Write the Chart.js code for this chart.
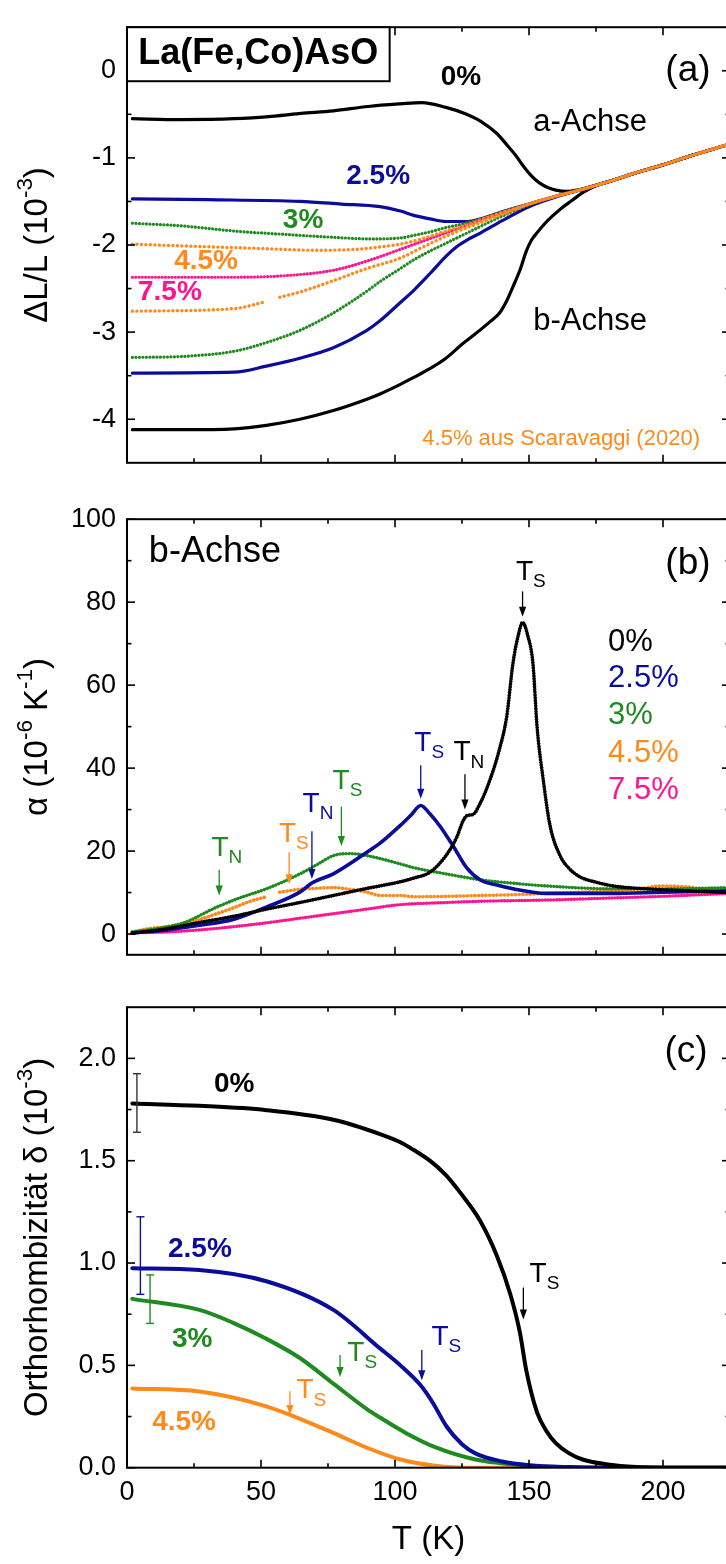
<!DOCTYPE html>
<html><head><meta charset="utf-8">
<script src="https://cdn.jsdelivr.net/npm/chart.js@4.4.1/dist/chart.umd.min.js"></script>
<style>
html,body{margin:0;padding:0;background:#fff;overflow:hidden;width:726px;height:1564px;}
#wrap{position:relative;width:726px;height:1564px;overflow:hidden;background:#fff;}
.pane{position:absolute;left:0;width:740px;}
canvas{display:block;}
</style></head><body>
<div id="wrap">
<div class="pane" style="top:0;height:490px"><canvas id="ca" width="740" height="490"></canvas></div>
<div class="pane" style="top:492px;height:490px"><canvas id="cb" width="740" height="490"></canvas></div>
<div class="pane" style="top:980px;height:584px"><canvas id="cc" width="740" height="584"></canvas></div>
</div>
<script>
// ---------- tick values ----------
const X_MAJOR = [0, 50, 100, 150, 200];
const X_MINOR = [25, 75, 125, 175];
const A_Y_MAJOR = [-4, -3, -2, -1, 0];
const A_Y_MINOR = [-3.5, -2.5, -1.5, -0.5];
const B_Y_MAJOR = [0, 20, 40, 60, 80, 100];
const B_Y_MINOR = [10, 30, 50, 70, 90];
const C_Y_MAJOR = [0, 0.5, 1.0, 1.5, 2.0];
const C_Y_MINOR = [0.25, 0.75, 1.25, 1.75];

// ---------- panel (a): ΔL/L (1e-3) ----------
const A_T_0a = [2, 20, 40, 55, 65, 77, 90, 102, 110, 119, 126, 132, 138, 142, 145, 148, 151, 154, 157, 160, 164, 168, 172, 180, 190, 200, 210, 225];
const A_V_0a = [-0.55, -0.56, -0.55, -0.52, -0.49, -0.46, -0.41, -0.38, -0.365, -0.42, -0.49, -0.58, -0.72, -0.86, -0.97, -1.10, -1.21, -1.29, -1.34, -1.37, -1.385, -1.37, -1.34, -1.27, -1.17, -1.08, -0.98, -0.84];
const A_T_0b = [2, 20, 40, 52, 64.5, 77, 89.5, 94.4, 102, 107, 113, 119, 125, 130, 135.5, 139, 141.7, 144, 146.6, 149, 151, 153, 156, 159, 162, 166, 170, 175, 180, 190, 200, 210, 225];
const A_V_0b = [-4.12, -4.12, -4.11, -4.07, -4.0, -3.90, -3.77, -3.71, -3.60, -3.52, -3.42, -3.30, -3.14, -3.02, -2.88, -2.78, -2.64, -2.48, -2.29, -2.07, -1.94, -1.86, -1.75, -1.66, -1.58, -1.49, -1.40, -1.32, -1.27, -1.17, -1.08, -0.98, -0.84];
const A_T_25a = [2, 30, 64.5, 80, 94.4, 102, 107, 113, 119, 127, 132, 140, 150, 160, 170, 180, 190, 200, 210, 225];
const A_V_25a = [-1.47, -1.48, -1.50, -1.53, -1.56, -1.61, -1.66, -1.70, -1.73, -1.73, -1.70, -1.62, -1.53, -1.44, -1.36, -1.27, -1.17, -1.08, -0.98, -0.84];
const A_T_25b = [2, 40, 52, 64.5, 77, 89.5, 94.4, 102, 107, 113, 119, 123, 127, 132, 140, 150, 160, 170, 180, 190, 200, 210, 225];
const A_V_25b = [-3.47, -3.46, -3.39, -3.30, -3.18, -2.98, -2.87, -2.66, -2.52, -2.33, -2.13, -2.02, -1.94, -1.86, -1.72, -1.56, -1.45, -1.36, -1.27, -1.17, -1.08, -0.98, -0.84];
const A_T_3a = [2, 20, 40, 60, 76, 91, 102, 107, 113, 119, 125, 132, 140, 150, 160, 170, 180, 190, 200, 210, 225];
const A_V_3a = [-1.75, -1.78, -1.84, -1.88, -1.91, -1.93, -1.92, -1.89, -1.85, -1.80, -1.76, -1.70, -1.62, -1.53, -1.44, -1.36, -1.27, -1.17, -1.08, -0.98, -0.84];
const A_T_3b = [2, 20, 40, 52, 64.5, 77, 89.5, 94.4, 102, 107, 113, 119, 127, 135, 145, 150, 160, 170, 180, 190, 200, 210, 225];
const A_V_3b = [-3.29, -3.28, -3.22, -3.12, -2.98, -2.78, -2.53, -2.42, -2.27, -2.17, -2.07, -1.98, -1.86, -1.74, -1.60, -1.54, -1.44, -1.36, -1.27, -1.17, -1.08, -0.98, -0.84];
const A_T_45a = [2, 30, 50, 70, 85, 95, 102, 110, 119, 127, 135, 145, 150, 160, 170, 180, 190, 200, 210, 225];
const A_V_45a = [-1.99, -2.02, -2.04, -2.06, -2.05, -2.02, -1.99, -1.93, -1.84, -1.77, -1.68, -1.58, -1.53, -1.44, -1.36, -1.27, -1.17, -1.08, -0.98, -0.84];
const A_T_45b = [2, 40, 52, 55, 57, 64.5, 77, 89.5, 102, 110, 119, 127, 135, 145, 150, 160, 170, 180, 190, 200, 210, 225];
const A_V_45b = [-2.76, -2.73, -2.65, null, -2.60, -2.54, -2.41, -2.27, -2.15, -2.03, -1.90, -1.80, -1.71, -1.59, -1.53, -1.44, -1.36, -1.27, -1.17, -1.08, -0.98, -0.84];
const A_T_75 = [2, 20, 40, 60, 77, 90, 102, 110, 120, 132, 145, 150, 160, 170, 180, 190, 200, 210, 225];
const A_V_75 = [-2.37, -2.37, -2.37, -2.35, -2.29, -2.18, -2.05, -1.96, -1.85, -1.71, -1.58, -1.53, -1.44, -1.36, -1.27, -1.17, -1.08, -0.98, -0.84];

// ---------- panel (b): α (1e-6 / K), b-axis ----------
const B_T_0 = [2, 15, 27, 40, 52, 64.5, 77, 89.5, 94.4, 102, 107, 113, 119, 123, 125.5, 127, 129, 131.7, 135.5, 139, 141.7, 144, 146, 147.6, 149.5, 151.5, 153, 155.3, 157.8, 161.6, 165, 169, 175, 181.4, 194, 210, 225];
const B_V_0 = [0.2, 1.3, 2.8, 4.3, 6.0, 7.6, 9.3, 11.0, 11.6, 12.6, 13.5, 14.9, 18.9, 23.3, 27.4, 28.6, 28.8, 31.4, 37.3, 44.6, 52.5, 65.2, 72, 75.1, 72, 65, 50, 37.3, 26.3, 18.9, 15.8, 13.8, 12.5, 11.6, 10.9, 10.4, 10.0];
const B_T_25 = [2, 15, 27, 39.6, 52, 64.5, 69, 77, 89.5, 94.4, 102, 106, 109.6, 113, 116.8, 121.8, 126.7, 131.7, 138, 144, 156.6, 181, 200, 225];
const B_V_25 = [0.3, 1.0, 2.1, 3.5, 6.5, 10.1, 12.3, 14.5, 19.7, 21.9, 26.2, 28.7, 31.0, 29.0, 26.0, 21.1, 16.0, 13.1, 11.8, 10.9, 9.8, 9.8, 10.1, 10.4];
const B_T_3 = [2, 10, 21, 33.5, 42, 52, 64.5, 70.8, 77, 83, 89.5, 94.4, 102, 107, 119, 131.7, 145, 156.6, 181, 200, 225];
const B_V_3 = [0.5, 1.2, 2.7, 6.5, 8.7, 10.9, 14.5, 16.7, 18.9, 19.4, 18.9, 18.2, 16.9, 16.0, 14.5, 13.1, 12.2, 11.6, 10.9, 10.9, 11.2];
const B_T_45 = [2, 8, 15, 21, 27, 33.5, 40, 46, 52, 55, 57, 64.5, 70, 77, 83, 89.5, 94.4, 102, 107, 120, 131.7, 145, 156.6, 170, 181, 190, 200, 210, 218.7, 225];
const B_V_45 = [0.5, 1.3, 1.8, 2.4, 3.5, 4.9, 6.4, 7.9, 9.0, null, 10.1, 10.8, 11.0, 11.2, 10.8, 10.1, 9.3, 9.3, 9.0, 9.1, 9.3, 9.5, 9.8, 10.1, 10.4, 10.8, 11.6, 11.3, 10.4, 10.6];
const B_T_75 = [2, 15, 27, 40, 52, 64.5, 77, 89.5, 102, 115, 131.7, 156.6, 181, 200, 225];
const B_V_75 = [0.3, 0.5, 1.0, 1.8, 2.7, 3.8, 4.9, 6.0, 7.1, 7.5, 7.9, 8.2, 8.7, 9.1, 9.8];

// ---------- panel (c): orthorhombicity δ (1e-3) ----------
const C_T_0 = [2, 27, 52, 77, 94.4, 102, 107, 113, 119, 124, 131.7, 138, 143, 146.6, 149, 153, 156.6, 160, 165, 170, 180, 190, 200, 225];
const C_V_0 = [1.78, 1.768, 1.747, 1.70, 1.63, 1.59, 1.552, 1.50, 1.43, 1.35, 1.208, 1.036, 0.849, 0.661, 0.474, 0.27, 0.177, 0.12, 0.07, 0.04, 0.015, 0.004, 0, 0];
const C_T_25 = [2, 27, 52, 77, 94.4, 102, 109.4, 114, 119.3, 125, 130, 140, 150, 165, 180, 225];
const C_V_25 = [0.975, 0.966, 0.911, 0.771, 0.583, 0.50, 0.405, 0.32, 0.20, 0.115, 0.07, 0.03, 0.012, 0.003, 0, 0];
const C_T_3 = [2, 27, 39.6, 52, 64.5, 77, 89.5, 94.4, 104, 115, 130, 150, 170, 225];
const C_V_3 = [0.825, 0.771, 0.708, 0.63, 0.536, 0.411, 0.286, 0.245, 0.17, 0.10, 0.04, 0.01, 0, 0];
const C_T_45 = [2, 27, 52, 64.5, 77, 90, 102, 115, 130, 225];
const C_V_45 = [0.387, 0.372, 0.30, 0.239, 0.17, 0.095, 0.04, 0.01, 0, 0];
const C_ERR_T = [3.7, 5, 8.6];
const C_ERR_LO = [1.639, 0.847, 0.705];
const C_ERR_HI = [1.925, 1.226, 0.942];

// ---------- styling ----------
const FONT = "Arial, 'Liberation Sans', Helvetica, sans-serif";
const BLACK = '#000000', BLUE = '#0c0c9c', GREEN = '#1f8a1f', ORANGE = '#ff8a1c', PINK = '#ff1490';
Chart.defaults.font.family = FONT;
Chart.defaults.color = '#000';

const pts = (T, V) => T.map((t, i) => ({x: t, y: V[i]}));
function solid(T, V, c, w) {
  return {data: pts(T, V), borderColor: c, backgroundColor: c, borderWidth: w || 3.2, pointRadius: 0,
    cubicInterpolationMode: 'monotone', spanGaps: false, borderCapStyle: 'round'};
}
function dotted(T, V, c, w, dash) {
  return {data: pts(T, V), borderColor: c, backgroundColor: c, borderWidth: w || 3.2, pointRadius: 0,
    borderDash: dash || [0.1, 4.2], borderCapStyle: 'round', cubicInterpolationMode: 'monotone', spanGaps: false};
}

function rich(ctx, parts, x, y, size, color, weight, align) {
  let w = 0;
  const segs = parts.map(p => {
    const s = (p.sub || p.sup) ? size * 0.68 : size;
    ctx.font = `${weight || 'normal'} ${s}px ${FONT}`;
    const m = ctx.measureText(p.t).width; w += m;
    return {p, s, m};
  });
  let cx = align === 'left' ? x : x - w / 2;
  ctx.fillStyle = color; ctx.textBaseline = 'middle'; ctx.textAlign = 'left';
  for (const sg of segs) {
    ctx.font = `${weight || 'normal'} ${sg.s}px ${FONT}`;
    const dy = sg.p.sub ? size * 0.34 : sg.p.sup ? -size * 0.36 : 0;
    ctx.fillText(sg.p.t, cx, y + dy);
    cx += sg.m;
  }
}

const ink = {
  id: 'ink',
  afterDatasetsDraw(chart) {
    const o = chart.options.plugins.ink; if (!o) return;
    const ctx = chart.ctx, xs = chart.scales.x, ys = chart.scales.y, ca = chart.chartArea;
    ctx.save();
    ctx.strokeStyle = '#000'; ctx.lineWidth = 2;
    ctx.strokeRect(ca.left, ca.top, ca.right - ca.left, ca.bottom - ca.top);
    ctx.lineWidth = 1.6;
    const seg = (x1, y1, x2, y2) => {ctx.beginPath(); ctx.moveTo(x1, y1); ctx.lineTo(x2, y2); ctx.stroke();};
    const xt = (arr, L) => arr.forEach(v => {const p = xs.getPixelForValue(v); seg(p, ca.bottom, p, ca.bottom - L); seg(p, ca.top, p, ca.top + L);});
    const yt = (arr, L) => arr.forEach(v => {const p = ys.getPixelForValue(v); seg(ca.left, p, ca.left + L, p); seg(ca.right, p, ca.right - L, p);});
    xt(X_MAJOR, 8); xt(X_MINOR, 4.5); yt(o.yMajor, 8); yt(o.yMinor, 4.5);
    ctx.save();
    ctx.translate(38, (ca.top + ca.bottom) / 2);
    ctx.rotate(-Math.PI / 2);
    rich(ctx, o.ytitle, 0, 0, 33, '#000', 'normal', 'center');
    ctx.restore();
    for (const n of o.notes) {
      const c = n.c || '#000';
      if (n.k === 'box') {
        const x1 = xs.getPixelForValue(n.x1), x2 = xs.getPixelForValue(n.x2);
        const y1 = ys.getPixelForValue(n.y1), y2 = ys.getPixelForValue(n.y2);
        ctx.fillStyle = '#fff'; ctx.fillRect(x1, y1, x2 - x1, y2 - y1);
        ctx.strokeStyle = '#000'; ctx.lineWidth = 2; ctx.strokeRect(x1, y1, x2 - x1, y2 - y1);
      } else if (n.k === 'text') {
        rich(ctx, [{t: n.t}], xs.getPixelForValue(n.x), ys.getPixelForValue(n.y), n.s, c, n.w, n.align);
      } else if (n.k === 'tl') {
        const ax = xs.getPixelForValue(n.x), a1 = ys.getPixelForValue(n.y1), a2 = ys.getPixelForValue(n.y2);
        ctx.strokeStyle = c; ctx.fillStyle = c; ctx.lineWidth = 1.3;
        seg(ax, a1, ax, a2 - 6);
        ctx.beginPath(); ctx.moveTo(ax, a2); ctx.lineTo(ax - 3.6, a2 - 10); ctx.lineTo(ax + 3.6, a2 - 10); ctx.closePath(); ctx.fill();
        const tx = xs.getPixelForValue(n.tx), ty = ys.getPixelForValue(n.ty);
        ctx.font = `normal 28px ${FONT}`;
        const wT = ctx.measureText('T').width;
        rich(ctx, [{t: 'T'}, {t: n.sub, sub: true}], tx - wT / 2, ty, 28, c, 'normal', 'left');
      } else if (n.k === 'err') {
        ctx.lineWidth = 1.4;
        n.T.forEach((t, i) => {
          const px = xs.getPixelForValue(t), lo = ys.getPixelForValue(n.lo[i]), hi = ys.getPixelForValue(n.hi[i]);
          ctx.strokeStyle = n.cols[i];
          seg(px, lo, px, hi); seg(px - 4, lo, px + 4, lo); seg(px - 4, hi, px + 4, hi);
        });
      }
    }
    ctx.restore();
  }
};

function makeChart(id, datasets, yMin, yMax, yMajor, yMinor, fmt, pad, ytitle, notes, showX) {
  return new Chart(document.getElementById(id), {
    type: 'line',
    data: {datasets},
    plugins: [ink],
    options: {
      responsive: false, devicePixelRatio: 1, animation: false,
      layout: {padding: pad},
      plugins: {legend: {display: false}, tooltip: {enabled: false}, title: {display: false},
        ink: {yMajor, yMinor, ytitle, notes}},
      scales: {
        x: {type: 'linear', min: 0, max: 225, display: showX,
          grid: {display: false, drawTicks: false}, border: {display: false},
          afterBuildTicks: s => { s.ticks = X_MAJOR.map(v => ({value: v})); },
          afterFit: s => { if (showX) s.height = 96.3; },
          ticks: {font: {size: 27}, color: '#000', padding: 9, maxRotation: 0, callback: v => String(v)},
          title: {display: showX, text: 'T (K)', font: {size: 33}, color: '#000', padding: {top: 0, bottom: 4}}},
        y: {type: 'linear', min: yMin, max: yMax,
          grid: {display: false, drawTicks: false}, border: {display: false},
          afterBuildTicks: s => { s.ticks = yMajor.map(v => ({value: v})); },
          afterFit: s => { s.width = 127; },
          ticks: {font: {size: 27}, color: '#000', padding: 11, callback: fmt}}
      }
    }
  });
}

// panel (a)
makeChart('ca', [
  dotted(A_T_45a, A_V_45a, ORANGE, 3.4, [0.1, 4.4]),
  dotted(A_T_45b, A_V_45b, ORANGE, 3.4, [0.1, 4.4]),
  dotted(A_T_75, A_V_75, PINK, 3.2, [0.1, 3.2]),
  dotted(A_T_3a, A_V_3a, GREEN, 3.2, [0.1, 3.4]),
  dotted(A_T_3b, A_V_3b, GREEN, 3.2, [0.1, 3.4]),
  solid(A_T_25a, A_V_25a, BLUE, 3.2),
  solid(A_T_25b, A_V_25b, BLUE, 3.2),
  solid(A_T_0a, A_V_0a, BLACK, 3.2),
  solid(A_T_0b, A_V_0b, BLACK, 3.2)
], -4.5, 0.5, A_Y_MAJOR, A_Y_MINOR, v => String(v), {top: 6.75, bottom: 5.75, left: 0, right: 10},
  [{t: 'ΔL/L (10'}, {t: '-3', sup: true}, {t: ')'}],
  [
    {k: 'box', x1: 0, x2: 98, y1: 0.5, y2: -0.12},
    {k: 'text', x: 49, y: 0.19, t: 'La(Fe,Co)AsO', s: 36, w: 'bold'},
    {k: 'text', x: 209.3, y: 0.0, t: '(a)', s: 37},
    {k: 'text', x: 124.6, y: -0.08, t: '0%', s: 28, w: 'bold'},
    {k: 'text', x: 172.8, y: -0.59, t: 'a-Achse', s: 31},
    {k: 'text', x: 172.8, y: -2.88, t: 'b-Achse', s: 31},
    {k: 'text', x: 93.7, y: -1.21, t: '2.5%', s: 28, w: 'bold', c: BLUE},
    {k: 'text', x: 65.7, y: -1.72, t: '3%', s: 28, w: 'bold', c: GREEN},
    {k: 'text', x: 29.5, y: -2.19, t: '4.5%', s: 28, w: 'bold', c: ORANGE},
    {k: 'text', x: 16, y: -2.54, t: '7.5%', s: 28, w: 'bold', c: PINK},
    {k: 'text', x: 162, y: -4.225, t: '4.5% aus Scaravaggi (2020)', s: 22, c: ORANGE}
  ], false);

// panel (b)
makeChart('cb', [
  dotted(B_T_0, B_V_0, BLACK, 3.6, [0.1, 2.6]),
  solid(B_T_25, B_V_25, BLUE, 3.6),
  dotted(B_T_3, B_V_3, GREEN, 3.4, [0.1, 3.0]),
  dotted(B_T_45, B_V_45, ORANGE, 3.6, [0.1, 3.6]),
  dotted(B_T_75, B_V_75, PINK, 3.4, [0.1, 2.8])
], -5, 100, B_Y_MAJOR, B_Y_MINOR, v => String(v), {top: 7, bottom: 7, left: 0, right: 10},
  [{t: 'α (10'}, {t: '-6', sup: true}, {t: ' K'}, {t: '-1', sup: true}, {t: ')'}],
  [
    {k: 'text', x: 32.8, y: 92, t: 'b-Achse', s: 36},
    {k: 'text', x: 209.3, y: 89.2, t: '(b)', s: 37},
    {k: 'text', x: 179.5, y: 70.4, t: '0%', s: 31, align: 'left'},
    {k: 'text', x: 179.5, y: 61.6, t: '2.5%', s: 31, align: 'left', c: BLUE},
    {k: 'text', x: 179.5, y: 52.8, t: '3%', s: 31, align: 'left', c: GREEN},
    {k: 'text', x: 179.5, y: 43.6, t: '4.5%', s: 31, align: 'left', c: ORANGE},
    {k: 'text', x: 179.5, y: 34.7, t: '7.5%', s: 31, align: 'left', c: PINK},
    {k: 'tl', x: 147.6, tx: 148.3, ty: 87.2, sub: 'S', y1: 82.6, y2: 76.5, c: BLACK},
    {k: 'tl', x: 109.6, tx: 110.4, ty: 45.9, sub: 'S', y1: 40.7, y2: 32.6, c: BLUE},
    {k: 'tl', x: 126.1, tx: 125, ty: 43.7, sub: 'N', y1: 38.5, y2: 30.0, c: BLACK},
    {k: 'tl', x: 80.0, tx: 79.9, ty: 36.9, sub: 'S', y1: 30.7, y2: 21.2, c: GREEN},
    {k: 'tl', x: 69.0, tx: 68.7, ty: 31.4, sub: 'N', y1: 24.8, y2: 13.3, c: BLUE},
    {k: 'tl', x: 60.5, tx: 59.9, ty: 24.1, sub: 'S', y1: 19.7, y2: 12.0, c: ORANGE},
    {k: 'tl', x: 34.4, tx: 34.7, ty: 20.6, sub: 'N', y1: 15.5, y2: 9.3, c: GREEN}
  ], false);

// panel (c)
makeChart('cc', [
  solid(C_T_0, C_V_0, BLACK, 4),
  solid(C_T_25, C_V_25, BLUE, 4),
  solid(C_T_3, C_V_3, GREEN, 4),
  solid(C_T_45, C_V_45, ORANGE, 4)
], 0, 2.25, C_Y_MAJOR, C_Y_MINOR, v => Number(v).toFixed(1), {top: 7.7, bottom: 0, left: 0, right: 10},
  [{t: 'Orthorhombizität δ (10'}, {t: '-3', sup: true}, {t: ')'}],
  [
    {k: 'text', x: 208.6, y: 2.033, t: '(c)', s: 37},
    {k: 'text', x: 40, y: 1.874, t: '0%', s: 28, w: 'bold'},
    {k: 'text', x: 27.2, y: 1.067, t: '2.5%', s: 28, w: 'bold', c: BLUE},
    {k: 'text', x: 24.3, y: 0.626, t: '3%', s: 28, w: 'bold', c: GREEN},
    {k: 'text', x: 21.3, y: 0.224, t: '4.5%', s: 28, w: 'bold', c: ORANGE},
    {k: 'tl', x: 79.5, tx: 85.4, ty: 0.561, sub: 'S', y1: 0.551, y2: 0.443, c: GREEN},
    {k: 'tl', x: 60.8, tx: 66.4, ty: 0.376, sub: 'S', y1: 0.374, y2: 0.257, c: ORANGE},
    {k: 'tl', x: 110.0, tx: 116.8, ty: 0.636, sub: 'S', y1: 0.575, y2: 0.427, c: BLUE},
    {k: 'tl', x: 147.9, tx: 153.4, ty: 0.945, sub: 'S', y1: 0.88, y2: 0.724, c: BLACK},
    {k: 'err', T: C_ERR_T, lo: C_ERR_LO, hi: C_ERR_HI, cols: ['#333', BLUE, GREEN]}
  ], true);
</script>
</body></html>
